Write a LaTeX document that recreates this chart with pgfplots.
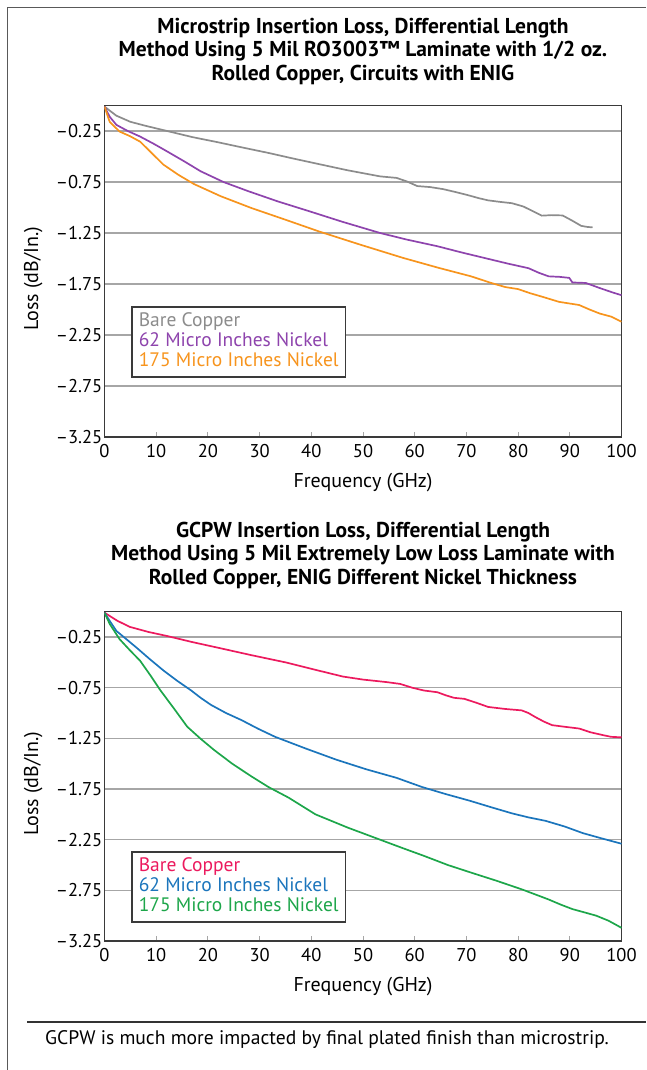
\documentclass[border=0pt]{standalone}
\usepackage{fontspec}
\setmainfont{PT Sans}
\usepackage{pgfplots}
\pgfplotsset{compat=1.18}
\definecolor{cgray}{HTML}{8C8C8C}
\definecolor{cpurple}{HTML}{8E44AD}
\definecolor{corange}{HTML}{F7941D}
\definecolor{cpink}{HTML}{EC1A5E}
\definecolor{cblue}{HTML}{1B75BC}
\definecolor{cgreen}{HTML}{1DA64A}
\definecolor{cgrid}{HTML}{A6A6A6}
\definecolor{cframe}{HTML}{3A3A3A}
\newcommand{\fs}{\fontsize{18.5}{21}\selectfont}
\pgfplotsset{myax/.style={
  scale only axis, width=517pt,
  xmin=0, xmax=100, ymin=-3.25, ymax=0,
  xtick={0,10,...,100},
  ytick={-0.25,-0.75,-1.25,-1.75,-2.25,-2.75,-3.25},
  yticklabels={–0.25,–0.75,–1.25,–1.75,–2.25,–2.75,–3.25},
  ymajorgrids, grid style={cgrid, line width=1.5pt},
  axis line style={cframe, line width=1.6pt},
  tick align=inside, xtick pos=bottom, ytick pos=left,
  major tick length=5pt,
  ytick style={draw=none},
  xtick style={cgrid, line width=1pt},
  tick label style={font=\fs},
  yticklabel style={inner xsep=2pt},
  xticklabel style={yshift=-4pt},
  /pgf/number format/assume math mode=true,
  xlabel={Frequency (GHz)}, ylabel={Loss (dB/In.)},
  label style={font=\fontsize{20}{22}\selectfont},
  ylabel style={at={(axis description cs:-0.138,0.477)}, anchor=center, rotate=0},
  xlabel style={at={(axis description cs:0.5,-0.138)}, anchor=center},
  title style={font=\bfseries\fontsize{21.5}{23.5}\selectfont, align=center, anchor=center},
  legend cell align=left,
  legend image code/.code={},
  legend style={anchor=north west, draw=cframe, line width=1.5pt, font=\fontsize{19.5}{20}\selectfont,
    inner xsep=5pt, inner ysep=5pt, row sep=0pt,
    nodes={text height=13.5pt, text depth=4.5pt, inner ysep=1pt}},
  every axis plot/.append style={line width=1.7pt, no markers},
}}
\begin{document}
\begin{tikzpicture}
\path[use as bounding box] (0,0) rectangle (646pt,1070pt);
\draw[line width=1.5pt, color=black!65] (7.5pt,0pt) -- (7.5pt,1062.5pt) -- (646pt,1062.5pt);
\draw[line width=1.2pt, color=black!80] (27pt,48pt) -- (646pt,48pt);
\node[font=\fontsize{19.6}{20}\selectfont, anchor=center] at (327pt,30pt) {GCPW is much more impacted by final plated finish than microstrip.};

\begin{axis}[myax, height=331.5pt, at={(104.5pt,633pt)}, anchor=south west,
  title={Microstrip Insertion Loss, Differential Length\\Method Using 5 Mil RO3003™ Laminate with 1/2 oz.\\Rolled Copper, Circuits with ENIG},
  title style={at={(axis description cs:0.5,1.146)}},
  legend style={at={(axis description cs:0.0514,0.395)}}]
\addplot[cgray] coordinates {(0,-0.01)(1,-0.05)(2.3,-0.10)(5,-0.16)(8,-0.20)(12.1,-0.25)(17,-0.31)(21.9,-0.36)(26.5,-0.41)(31.7,-0.465)(36.5,-0.52)(41.5,-0.575)(47,-0.635)(53.3,-0.695)(56.5,-0.71)(58.5,-0.745)(60.5,-0.79)(63,-0.80)(65.5,-0.82)(67.6,-0.845)(70,-0.875)(72.5,-0.91)(74.2,-0.93)(76.5,-0.945)(78.8,-0.958)(81,-0.99)(83,-1.04)(84.6,-1.08)(86.5,-1.075)(88.6,-1.078)(90.5,-1.13)(92.2,-1.18)(93.3,-1.19)(94.4,-1.195)};
\addlegendentry{\textcolor{cgray}{Bare Copper}}
\addplot[cpurple] coordinates {(0,-0.01)(1,-0.11)(2.3,-0.19)(4.5,-0.25)(6.9,-0.305)(9.5,-0.375)(12.1,-0.45)(15.5,-0.55)(18.6,-0.645)(23,-0.75)(27.8,-0.84)(33.5,-0.94)(39.5,-1.035)(46,-1.14)(53.3,-1.25)(58.5,-1.315)(64.4,-1.38)(69,-1.44)(73.5,-1.495)(78,-1.55)(82,-1.595)(84,-1.64)(85.9,-1.675)(88,-1.68)(89.9,-1.69)(90.5,-1.735)(93.1,-1.74)(95.8,-1.79)(98.4,-1.835)(100,-1.86)};
\addlegendentry{\textcolor{cpurple}{62 Micro Inches Nickel}}
\addplot[corange] coordinates {(0,-0.01)(1,-0.16)(2.9,-0.255)(4.9,-0.30)(6.9,-0.355)(9,-0.46)(11.4,-0.58)(14.3,-0.68)(17.3,-0.77)(22.5,-0.89)(28.4,-1.005)(35,-1.12)(41.5,-1.235)(49.5,-1.365)(57.8,-1.495)(64.5,-1.59)(70.9,-1.675)(74.8,-1.74)(77.5,-1.78)(80,-1.80)(82.3,-1.84)(85,-1.88)(87.9,-1.925)(91.8,-1.956)(93.8,-2.0)(95.8,-2.04)(98,-2.07)(100,-2.12)};
\addlegendentry{\textcolor{corange}{175 Micro Inches Nickel}}
\end{axis}

\begin{axis}[myax, height=329.3pt, at={(104.5pt,129pt)}, anchor=south west,
  title={GCPW Insertion Loss, Differential Length\\Method Using 5 Mil Extremely Low Loss Laminate with\\Rolled Copper, ENIG Different Nickel Thickness},
  title style={at={(axis description cs:0.5,1.154)}},
  legend style={at={(axis description cs:0.0514,0.272)}}]
\addplot[cpink] coordinates {(0,-0.01)(2.5,-0.09)(4.9,-0.15)(8.5,-0.20)(12.1,-0.24)(17,-0.30)(21.9,-0.355)(28.5,-0.43)(35,-0.50)(40.5,-0.57)(46.1,-0.64)(50,-0.67)(54.6,-0.695)(57.2,-0.713)(59.5,-0.75)(61.8,-0.778)(64.4,-0.795)(66,-0.825)(67.6,-0.85)(69.6,-0.86)(72,-0.90)(74.2,-0.94)(77.5,-0.96)(80.7,-0.974)(82,-1.0)(83.3,-1.039)(85,-1.085)(86.6,-1.12)(89.2,-1.137)(91.8,-1.153)(94,-1.19)(96.4,-1.218)(98,-1.235)(100,-1.24)};
\addlegendentry{\textcolor{cpink}{Bare Copper}}
\addplot[cblue] coordinates {(0,-0.01)(1,-0.09)(2.3,-0.19)(4.2,-0.27)(6.2,-0.355)(8.8,-0.47)(11.4,-0.58)(14,-0.68)(16.7,-0.775)(18.6,-0.85)(20.6,-0.92)(23.5,-1.0)(26.5,-1.07)(29.7,-1.155)(33,-1.235)(38.9,-1.35)(44.8,-1.46)(50.6,-1.555)(56.5,-1.64)(61.4,-1.73)(66,-1.80)(70.6,-1.865)(74.8,-1.93)(78.8,-1.99)(82,-2.03)(85.3,-2.064)(89,-2.12)(92.5,-2.185)(96,-2.235)(100,-2.29)};
\addlegendentry{\textcolor{cblue}{62 Micro Inches Nickel}}
\addplot[cgreen] coordinates {(0,-0.01)(1,-0.12)(2.9,-0.27)(4.9,-0.38)(6.9,-0.485)(8.9,-0.63)(10.8,-0.775)(13.5,-0.96)(16,-1.135)(18.5,-1.25)(21.2,-1.365)(24.7,-1.50)(28.4,-1.625)(31.7,-1.73)(35.6,-1.835)(40.8,-2.0)(47,-2.13)(53.3,-2.25)(57.5,-2.33)(61.8,-2.41)(66.4,-2.50)(70.9,-2.575)(75.8,-2.655)(80.7,-2.74)(83.3,-2.79)(85.9,-2.84)(88.2,-2.89)(90.5,-2.935)(93,-2.97)(95.1,-3.0)(97.5,-3.05)(100,-3.12)};
\addlegendentry{\textcolor{cgreen}{175 Micro Inches Nickel}}
\end{axis}
\end{tikzpicture}
\end{document}
